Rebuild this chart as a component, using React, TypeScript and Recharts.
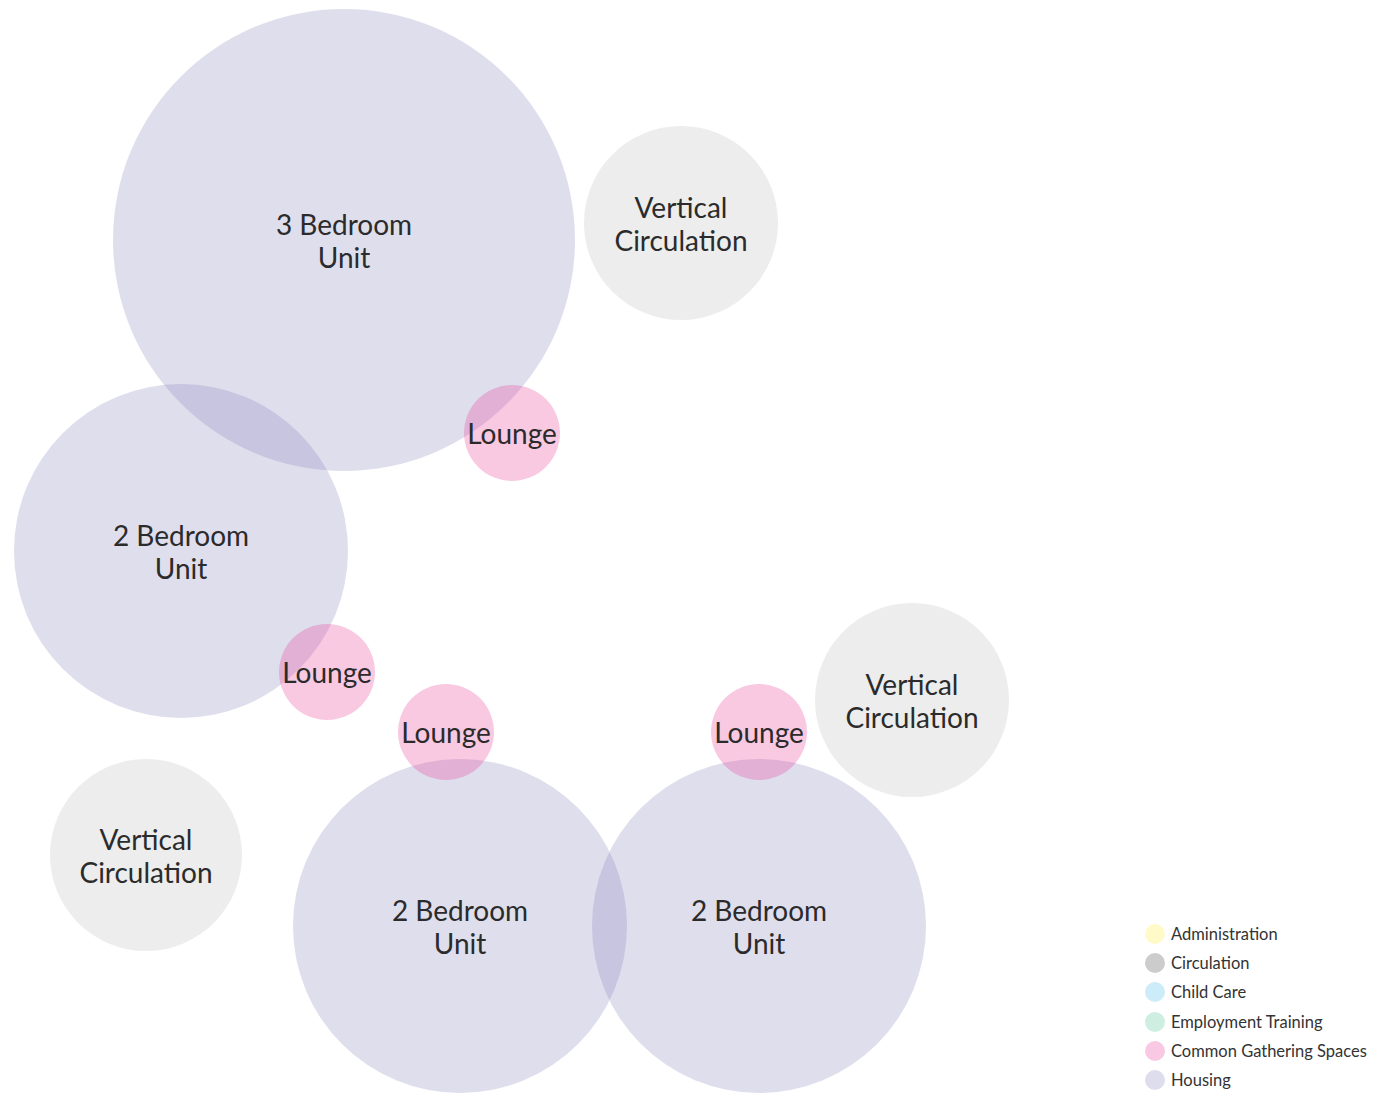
import React from "react";
import { ScatterChart, Scatter, XAxis, YAxis } from "recharts";

const WIDTH = 1386;
const HEIGHT = 1095;

// space names, centres and radii (same units as the axes)
const spaceNames = [
  "3 Bedroom\nUnit",
  "Vertical\nCirculation",
  "2 Bedroom\nUnit",
  "Vertical\nCirculation",
  "2 Bedroom\nUnit",
  "2 Bedroom\nUnit",
  "Vertical\nCirculation",
  "Lounge",
  "Lounge",
  "Lounge",
  "Lounge",
];
const spaceCategory = [
  "Housing",
  "Circulation",
  "Housing",
  "Circulation",
  "Housing",
  "Housing",
  "Circulation",
  "Common Gathering Spaces",
  "Common Gathering Spaces",
  "Common Gathering Spaces",
  "Common Gathering Spaces",
];
const spaceX = [344, 681, 181, 912, 460, 759, 146, 512, 327, 446, 759];
const spaceY = [240, 223, 551, 700, 926, 926, 855, 433, 672, 732, 732];
const spaceR = [231, 97, 167, 97, 167, 167, 96, 48, 48, 48, 48];

const legendNames = [
  "Administration",
  "Circulation",
  "Child Care",
  "Employment Training",
  "Common Gathering Spaces",
  "Housing",
];

const FILL: Record<string, string> = {
  Administration: "#ffe34d",
  Circulation: "#b3b7b3",
  "Child Care": "#4cc3ef",
  "Employment Training": "#4cc28c",
  "Common Gathering Spaces": "#e7298a",
  Housing: "#7f7bb7",
};
const LEGEND_FILL: Record<string, string> = {
  Administration: "#fffac8",
  Circulation: "#cccccc",
  "Child Care": "#cdecf9",
  "Employment Training": "#cdeee0",
  "Common Gathering Spaces": "#f9c9e3",
  Housing: "#dedded",
};

const data = spaceNames.map((name, i) => ({
  name,
  category: spaceCategory[i],
  x: spaceX[i],
  y: spaceY[i],
  r: spaceR[i],
}));

const FONT = "Lato, 'Noto Sans', sans-serif";
const PX_PER_UNIT = 1; // domain matches plot size

function Bubble(props: any) {
  const { cx, cy, payload } = props;
  return (
    <circle
      cx={cx}
      cy={cy}
      r={payload.r * PX_PER_UNIT}
      fill={FILL[payload.category]}
      fillOpacity={0.25}
    />
  );
}

function BubbleLabel(props: any) {
  const { cx, cy, payload } = props;
  const lines: string[] = payload.name.split("\n");
  const lh = 33;
  const y0 = cy - ((lines.length - 1) * lh) / 2;
  return (
    <text
      x={cx}
      textAnchor="middle"
      dominantBaseline="central"
      fontFamily={FONT}
      fontSize={28}
      fill="#2b2b2b"
    >
      {lines.map((l, i) => (
        <tspan key={i} x={cx} y={y0 + i * lh}>
          {l}
        </tspan>
      ))}
    </text>
  );
}

function LegendBox() {
  return (
    <div
      style={{
        position: "absolute",
        left: 1145,
        top: 919,
        fontFamily: FONT,
        fontSize: 16.5,
        color: "#333",
      }}
    >
      {legendNames.map((n) => (
        <div key={n} style={{ display: "flex", alignItems: "center", height: 29.3 }}>
          <span
            style={{
              width: 20,
              height: 20,
              borderRadius: 10,
              background: LEGEND_FILL[n],
              marginRight: 6,
              display: "inline-block",
            }}
          />
          {n}
        </div>
      ))}
    </div>
  );
}

export default function App() {
  return (
    <div style={{ position: "absolute", left: 0, top: 0, width: WIDTH, height: HEIGHT, background: "#fff" }}>
      <ScatterChart width={WIDTH} height={HEIGHT} margin={{ top: 0, right: 0, bottom: 0, left: 0 }}>
        <XAxis type="number" dataKey="x" domain={[0, WIDTH]} hide />
        <YAxis type="number" dataKey="y" domain={[0, HEIGHT]} reversed hide />
        <Scatter data={data} shape={<Bubble />} isAnimationActive={false} />
        <Scatter data={data} shape={<BubbleLabel />} isAnimationActive={false} />
      </ScatterChart>
      <LegendBox />
    </div>
  );
}
